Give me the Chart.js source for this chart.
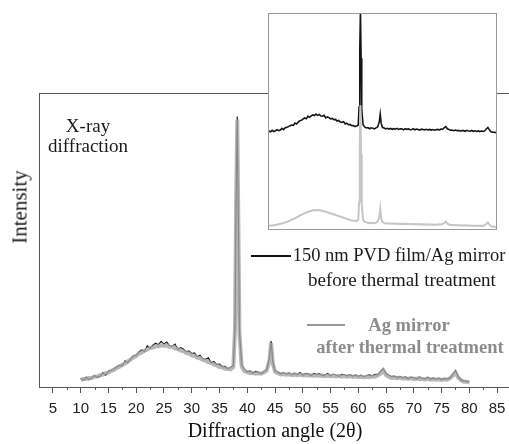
<!DOCTYPE html>
<html>
<head>
<meta charset="utf-8">
<script src="https://cdn.jsdelivr.net/npm/chart.js@4.4.1/dist/chart.umd.min.js"></script>
<style>
  html, body { margin: 0; padding: 0; background: #fff; overflow: hidden; width: 509px; height: 444px; }
  #wrap { position: relative; width: 520px; height: 444px; }
  #main { position: absolute; left: 0; top: 0; }
  #inset { position: absolute; left: 268px; top: 13px; width: 227px; height: 215px; border: 1px solid #999; background: #fff; }
  .txt { position: absolute; font-family: 'Liberation Serif', 'Times New Roman', serif; color: #1a1a1a;
         white-space: nowrap; line-height: 1; transform: translate(-50%, -50%); }
  .grey { color: #8c8c8c; font-weight: bold; }
  .key { position: absolute; height: 2px; }
</style>
</head>
<body>
<div id="wrap">
  <canvas id="main" width="520" height="444"></canvas>
  <div id="inset"><canvas id="insetCanvas" width="227" height="215"></canvas></div>

  <div class="txt" style="left:20px; top:207px; font-size:21px; transform:translate(-50%,-50%) rotate(-90deg);">Intensity</div>
  <div class="txt" style="left:88px; top:125px; font-size:19px;">X-ray</div>
  <div class="txt" style="left:88px; top:145px; font-size:19px;">diffraction</div>

  <div class="key" style="left:251px; top:255px; width:40px; background:#111;"></div>
  <div class="txt" style="left:399px; top:255px; font-size:18.5px;">150 nm PVD film/Ag mirror</div>
  <div class="txt" style="left:402px; top:279px; font-size:19px;">before thermal treatment</div>

  <div class="key" style="left:307px; top:324px; width:38px; background:#999;"></div>
  <div class="txt grey" style="left:409px; top:325px; font-size:18.5px;">Ag mirror</div>
  <div class="txt grey" style="left:410px; top:347px; font-size:18.5px;">after thermal treatment</div>
</div>

<script>
// angle (2θ) of each measured point
const angles = [
  10, 10.5, 11, 11.5, 12, 12.5, 13, 13.5, 14, 14.5,
  15, 15.5, 16, 16.5, 17, 17.5, 18, 18.5, 19, 19.5,
  20, 20.5, 21, 21.5, 22, 22.5, 23, 23.5, 24, 24.5,
  25, 25.5, 26, 26.5, 27, 27.5, 28, 28.5, 29, 29.5,
  30, 30.5, 31, 31.5, 32, 32.5, 33, 33.5, 34, 34.5,
  35, 35.5, 36, 36.5, 37, 37.5, 37.8, 38, 38.2, 38.4,
  38.6, 39, 39.5, 40, 40.5, 41, 41.5, 42, 42.5, 43,
  43.5, 44, 44.3, 44.6, 45, 45.5, 46, 46.5, 47, 47.5,
  48, 48.5, 49, 49.5, 50, 50.5, 51, 51.5, 52, 52.5,
  53, 53.5, 54, 54.5, 55, 55.5, 56, 56.5, 57, 57.5,
  58, 58.5, 59, 59.5, 60, 60.5, 61, 61.5, 62, 62.5,
  63, 63.5, 64, 64.5, 65, 65.5, 66, 66.5, 67, 67.5,
  68, 68.5, 69, 69.5, 70, 70.5, 71, 71.5, 72, 72.5,
  73, 73.5, 74, 74.5, 75, 75.5, 76, 76.5, 77, 77.5,
  78, 78.5, 79, 79.5, 80
];

// 150 nm PVD film / Ag mirror, before thermal treatment (black)
const pvdFilm = [
  2.9, 2.3, 3.4, 2.5, 3.1, 3.9, 3.2, 3.6, 4.9, 4.0,
  5.4, 5.6, 6.2, 6.9, 7.4, 7.1, 8.9, 8.2, 9.6, 10.6,
  10.9, 11.9, 12.6, 12.0, 14.0, 13.1, 14.2, 14.9, 14.4, 15.5,
  14.6, 15.3, 14.1, 13.9, 14.6, 12.7, 13.4, 12.9, 12.0, 12.3,
  11.4, 11.6, 10.3, 10.8, 9.6, 9.4, 9.9, 8.2, 8.7, 7.6,
  7.8, 6.9, 7.0, 6.2, 6.7, 7.2, 21, 64, 92, 57,
  19, 7.6, 5.9, 5.2, 5.5, 4.6, 5.3, 5.0, 4.5, 5.3,
  6.0, 9.8, 15.6, 8.6, 5.5, 5.1, 4.5, 4.9, 4.4, 4.8,
  4.2, 4.7, 4.3, 4.9, 4.1, 4.6, 4.5, 3.8, 4.6, 4.2,
  4.5, 3.9, 4.1, 4.6, 3.8, 4.4, 4.0, 3.6, 4.3, 4.1,
  3.8, 4.2, 3.7, 4.1, 3.6, 4.0, 3.5, 3.9, 4.1, 3.7,
  4.3, 4.2, 5.3, 6.2, 4.6, 4.0, 3.5, 3.7, 3.2, 3.6,
  3.1, 3.4, 2.8, 3.3, 3.2, 2.7, 3.4, 2.9, 2.8, 3.3,
  2.7, 3.1, 2.6, 3.0, 2.5, 2.9, 2.7, 3.0, 4.4, 5.6,
  3.6, 2.4, 2.1, 2.0, 1.7
];

// Ag mirror, after thermal treatment (grey)
const agMirror = [
  2.4, 2.7, 2.7, 3.1, 3.1, 3.5, 3.6, 4.0, 4.2, 4.7,
  4.9, 5.5, 5.8, 6.5, 6.9, 7.6, 8.0, 8.8, 9.3, 10.1,
  10.5, 11.3, 11.7, 12.4, 12.7, 13.3, 13.4, 13.9, 13.9, 14.2,
  14.0, 14.1, 13.7, 13.6, 13.1, 13.0, 12.4, 12.2, 11.6, 11.4,
  10.8, 10.6, 10.0, 9.8, 9.2, 9.0, 8.4, 8.2, 7.6, 7.4,
  6.8, 6.7, 6.2, 6.2, 6.0, 6.8, 20, 62, 91, 55,
  18, 7.0, 5.4, 5.1, 4.7, 4.8, 4.5, 4.7, 4.5, 4.9,
  5.6, 9.0, 15.0, 8.0, 5.2, 4.7, 4.3, 4.4, 4.2, 4.3,
  4.1, 4.2, 4.0, 4.2, 3.9, 4.1, 3.9, 4.0, 3.8, 4.0,
  3.8, 3.9, 3.7, 3.9, 3.7, 3.8, 3.6, 3.8, 3.5, 3.7,
  3.5, 3.7, 3.4, 3.6, 3.4, 3.5, 3.3, 3.5, 3.3, 3.6,
  3.5, 4.0, 4.5, 5.7, 4.1, 3.5, 3.1, 3.2, 3.0, 3.1,
  2.9, 3.0, 2.8, 3.0, 2.7, 2.9, 2.7, 2.8, 2.6, 2.8,
  2.5, 2.7, 2.5, 2.6, 2.4, 2.6, 2.5, 3.0, 3.8, 5.0,
  3.2, 2.3, 1.8, 1.8, 1.5
];

const majorTicks = [5, 10, 15, 20, 25, 30, 35, 40, 45, 50, 55, 60, 65, 70, 75, 80, 85];
const minorTicks = [7.5, 12.5, 17.5, 22.5, 27.5, 32.5, 37.5, 42.5, 47.5, 52.5, 57.5, 62.5, 67.5, 72.5, 77.5, 82.5];

const toPoints = values => angles.map((a, i) => ({ x: a, y: values[i] }));

// top frame line and short minor ticks on the angle axis
const frameTicks = {
  id: 'frameTicks',
  afterDraw(chart) {
    const { ctx, chartArea, scales } = chart;
    ctx.save();
    ctx.strokeStyle = '#555';
    ctx.lineWidth = 1;
    ctx.beginPath();
    ctx.moveTo(chartArea.left, chartArea.top + 0.5);
    ctx.lineTo(chartArea.right, chartArea.top + 0.5);
    minorTicks.forEach(v => {
      const x = Math.round(scales.x.getPixelForValue(v)) + 0.5;
      ctx.moveTo(x, chartArea.bottom);
      ctx.lineTo(x, chartArea.bottom + 3);
    });
    ctx.stroke();
    ctx.restore();
  }
};

new Chart(document.getElementById('main'), {
  type: 'line',
  data: {
    datasets: [
      { data: toPoints(pvdFilm), borderColor: '#1a1a1a', borderWidth: 1.2, order: 2 },
      { data: toPoints(agMirror), borderColor: 'rgba(165,165,165,0.8)', borderWidth: 4, order: 1 }
    ]
  },
  options: {
    responsive: false,
    animation: false,
    devicePixelRatio: 1,
    layout: { padding: { top: 93, right: 9, left: 0, bottom: 0 } },
    elements: { point: { radius: 0 }, line: { tension: 0 } },
    plugins: { legend: { display: false }, tooltip: { enabled: false } },
    scales: {
      x: {
        type: 'linear',
        min: 2.5,
        max: 87.5,
        afterBuildTicks: s => { s.ticks = majorTicks.map(v => ({ value: v })); },
        afterFit: s => { s.height = 57; },
        ticks: { autoSkip: false, maxRotation: 0, padding: 7, color: '#222',
                 font: { family: "'Liberation Sans', Arial, sans-serif", size: 15 } },
        grid: { drawOnChartArea: false, tickLength: 6, color: '#555' },
        border: { color: '#555' },
        title: { display: true, text: 'Diffraction angle (2θ)', color: '#111', padding: 0,
                 font: { family: "'Liberation Serif', 'Times New Roman', serif", size: 20 } }
      },
      y: {
        min: 0,
        max: 100,
        afterFit: s => { s.width = 39; },
        ticks: { display: false },
        grid: { drawOnChartArea: false, drawTicks: false },
        border: { color: '#555' }
      }
    }
  },
  plugins: [frameTicks]
});

new Chart(document.getElementById('insetCanvas'), {
  type: 'line',
  data: {
    datasets: [
      { data: toPoints(agMirror), yAxisID: 'yg', borderColor: '#c6c6c6', borderWidth: 2 },
      { data: toPoints(pvdFilm), yAxisID: 'yb', borderColor: '#151515', borderWidth: 1.6 }
    ]
  },
  options: {
    responsive: false,
    animation: false,
    devicePixelRatio: 1,
    layout: { padding: 0 },
    elements: { point: { radius: 0 }, line: { tension: 0 } },
    plugins: { legend: { display: false }, tooltip: { enabled: false } },
    scales: {
      x: { type: 'linear', min: 10, max: 80, display: false },
      yb: { min: -70, max: 90, display: false },
      yg: { min: 0.2, max: 158, display: false }
    }
  }
});
</script>
</body>
</html>
